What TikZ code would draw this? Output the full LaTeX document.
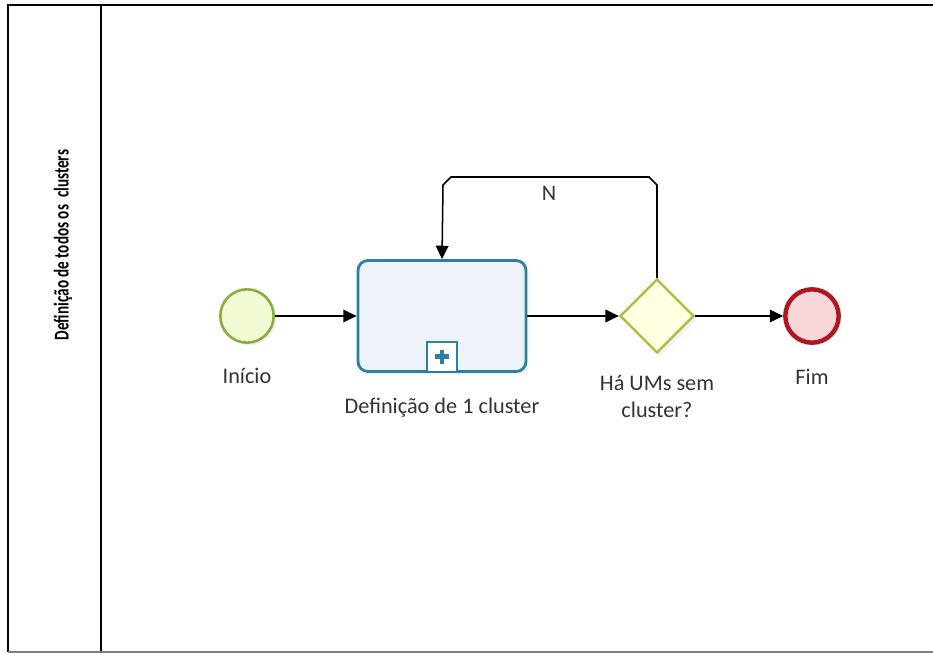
\documentclass[tikz,border=0pt]{standalone}
\usepackage{fontspec}
\setmainfont{Carlito}
\usepackage{xcolor}
\usepackage{tikz}
\usetikzlibrary{arrows.meta,shapes,calc,positioning,shadows}

\definecolor{startfill}{HTML}{F1FAD2}
\definecolor{startdraw}{HTML}{86AE3C}
\definecolor{taskfill}{HTML}{EEF3FA}
\definecolor{taskdraw}{HTML}{2C7FA6}
\definecolor{gatefill}{HTML}{FFFFE2}
\definecolor{gatedraw}{HTML}{B6B83C}
\definecolor{endfill}{HTML}{F6D6D8}
\definecolor{enddraw}{HTML}{B2151E}

\begin{document}
\begin{tikzpicture}[x=0.03cm,y=-0.03cm]
        % \tikzstyle{every path}=[very thick]

        \edef\sizeevent{1.6cm}
        \tikzstyle{myshadow}=[drop shadow={opacity=0.12,shadow xshift=0.08cm,shadow yshift=-0.08cm}]
        \tikzstyle{startev}=[circle,draw=startdraw,fill=startfill,line width=2.2pt,minimum size=\sizeevent,myshadow]
        \tikzstyle{endev}=[circle,draw=enddraw,fill=endfill,line width=3.8pt,minimum size=\sizeevent,myshadow]
        \tikzstyle{subproc}=[rectangle,rounded corners=0.3cm,draw=taskdraw,fill=taskfill,line width=2.4pt,minimum width=5.04cm,minimum height=3.33cm,myshadow]
        \tikzstyle{gateway}=[diamond,draw=gatedraw,fill=gatefill,line width=2pt,minimum width=2.22cm,minimum height=2.22cm,inner sep=0pt,myshadow]
        \tikzstyle{lbl}=[font=\fontsize{19}{23}\selectfont,text=black!80,align=center]
        \tikzstyle{flow}=[-{Triangle[length=0.4cm,width=0.38cm]},line width=1.3pt]

        \useasboundingbox (0,0) rectangle (933,653);

        %% Pool frame and lane header
        \draw[line width=1.6pt] (8,652) -- (8,5) -- (933,5);
        \draw[line width=1.6pt] (101,5) -- (101,652);
        \draw[gray,line width=1.6pt] (8,652) -- (933,652);
        \node[rotate=90,font=\fontsize{18}{21}\selectfont\bfseries] (lane) at (63,245) {\scalebox{0.72}[1]{Definição de todos os \ clusters}};

        %% Flow nodes
        \node[startev] (inicio) at (247,316) {};
        \node[subproc] (task) at (442,316) {};
        \node[gateway] (gw) at (657,316) {};
        \node[endev] (fim) at (812,316) {};

        % subprocess marker
        \node[draw=taskdraw,fill=white,line width=2pt,minimum size=0.9cm,inner sep=0pt,anchor=south] (mark) at (task.south) {};
        \draw[taskdraw,line width=4pt] ($(mark.center)+(-7,0)$) -- ($(mark.center)+(7,0)$);
        \draw[taskdraw,line width=4pt] ($(mark.center)+(0,-7)$) -- ($(mark.center)+(0,7)$);

        %% Labels
        \node[lbl,below=0.6cm of inicio] (linicio) {Início};
        \node[lbl,below=0.62cm of task] (ltask) {Definição de 1 cluster};
        \node[lbl,below=0.5cm of gw] (lgw) {Há UMs sem\\cluster?};
        \node[lbl,below=0.6cm of fim] (lfim) {Fim};

        %% Sequence flows
        \draw[flow] (inicio) -- (task);
        \draw[flow] (task) -- (gw);
        \draw[flow] (gw) -- (fim);

        \coordinate (loopR) at (657,177);
        \coordinate (loopL) at (443,177);
        \draw[flow] (gw.north) -- ($(loopR)+(0,8)$) -- ($(loopR)+(-8,0)$) -- ($(loopL)+(8,0)$) -- ($(loopL)+(0,8)$) -- (task.north);
        \node[lbl] (lN) at (549,193) {N};

    \end{tikzpicture}
\end{document}
